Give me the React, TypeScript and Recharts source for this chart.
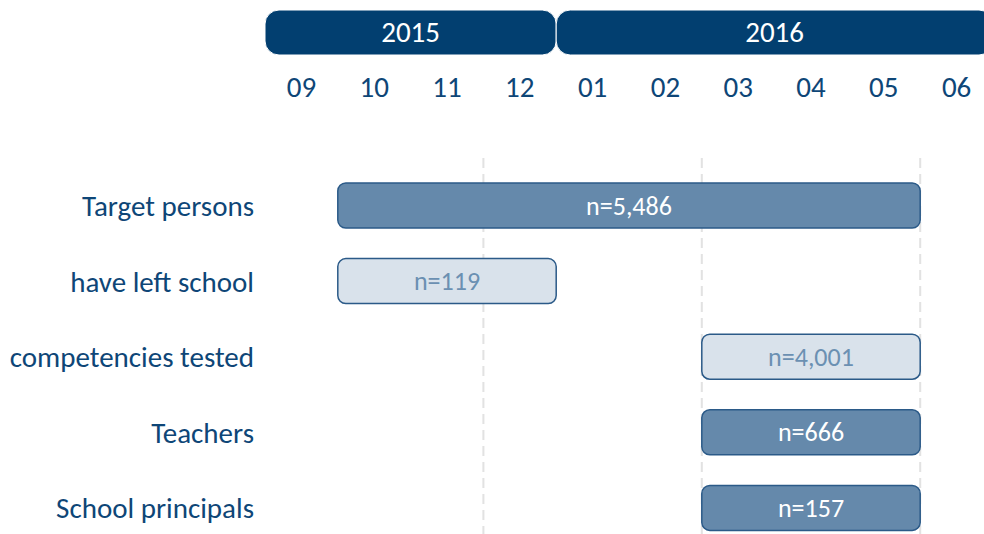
import React from 'react';
import { BarChart, Bar, XAxis, YAxis, ReferenceArea, CartesianGrid, Cell, LabelList } from 'recharts';

// month axis (index 0 = September 2015)
const monthLabels = ['09', '10', '11', '12', '01', '02', '03', '04', '05', '06'];
const monthIndex = [0, 1, 2, 3, 4, 5, 6, 7, 8, 9];

// year header bands
const years = ['2015', '2016'];
const yearStart = [-0.5, 3.5];
const yearEnd = [3.5, 9.5];

// survey groups
const groups = ['Target persons', 'have left school', 'competencies tested', 'Teachers', 'School principals'];
const periodStart = [0.5, 0.5, 5.5, 5.5, 5.5];
const periodEnd = [8.5, 3.5, 8.5, 8.5, 8.5];
const sampleLabels = ['n=5,486', 'n=119', 'n=4,001', 'n=666', 'n=157'];
const emphasis = [true, false, false, true, true];

// dashed divider positions
const dividers = [2.5, 5.5, 8.5];

const FONT = 'Calibri, Carlito, Lato, sans-serif';
const NAVY = '#023f70';
const TEXT = '#0e4677';
const DARK = '#6589ab';
const LIGHT = '#d9e2eb';
const BORDER = '#2b5a88';
const LIGHT_TEXT = '#6b90b2';

const headerData = years.map((y) => ({ year: y }));
const rows = groups.map((g, i) => ({
  group: g,
  period: [periodStart[i], periodEnd[i]],
  n: sampleLabels[i],
}));

const renderLabel = (props: any) => {
  const { x, y, width, height, value } = props;
  let idx = props.index;
  if (idx === undefined || idx === null) idx = sampleLabels.indexOf(value);
  const dark = emphasis[idx];
  return (
    <text
      x={Number(x) + Number(width) / 2}
      y={Number(y) + Number(height) / 2}
      textAnchor="middle"
      dominantBaseline="central"
      fill={dark ? '#ffffff' : LIGHT_TEXT}
      fontSize={26}
      fontFamily={FONT}
    >
      {value}
    </text>
  );
};

const dividerCoords = (props: any) => {
  const axis = props.xAxis;
  const scale = axis && axis.scale;
  if (scale && typeof scale === 'function') return dividers.map((d) => scale(d));
  if (scale && typeof scale.map === 'function') return dividers.map((d) => scale.map(d));
  const off = props.offset;
  return dividers.map((d) => off.left + ((d + 0.5) / 10) * off.width);
};

export default function App() {
  return (
    <div
      style={{
        position: 'absolute',
        left: 0,
        top: 0,
        width: 984,
        height: 534,
        overflow: 'hidden',
        background: '#ffffff',
        fontFamily: FONT,
      }}
    >
      <div style={{ position: 'absolute', left: 0, top: 0 }}>
        <BarChart
          width={993}
          height={120}
          data={headerData}
          layout="vertical"
          margin={{ top: 10, right: 0, left: 265, bottom: 35 }}
        >
          <XAxis
            type="number"
            domain={[-0.5, 9.5]}
            ticks={monthIndex}
            tickFormatter={(v: number) => monthLabels[v]}
            axisLine={false}
            tickLine={false}
            tickSize={0}
            tickMargin={21}
            interval={0}
            allowDataOverflow
            tick={{ fill: TEXT, fontSize: 29, fontFamily: FONT }}
          />
          <YAxis type="category" dataKey="year" hide />
          {years.map((y, i) => (
            <ReferenceArea
              key={y}
              x1={yearStart[i]}
              x2={yearEnd[i]}
              fill={NAVY}
              fillOpacity={1}
              stroke="#ffffff"
              strokeWidth={1}
              radius={14}
              ifOverflow="visible"
              label={{ value: y, position: 'center', fill: '#ffffff', fontSize: 29, fontFamily: FONT, dy: -1 }}
            />
          ))}
        </BarChart>
      </div>
      <div style={{ position: 'absolute', left: 0, top: 120 }}>
        <BarChart
          width={993}
          height={426}
          data={rows}
          layout="vertical"
          margin={{ top: 38, right: 0, left: 0, bottom: 0 }}
          barSize={45}
        >
          <CartesianGrid
            horizontal={false}
            vertical
            verticalCoordinatesGenerator={dividerCoords}
            stroke="#e2e2e2"
            strokeWidth={2}
            strokeDasharray="10 6"
          />
          <XAxis type="number" domain={[-0.5, 9.5]} hide allowDataOverflow />
          <YAxis
            type="category"
            dataKey="group"
            width={265}
            axisLine={false}
            tickLine={false}
            tickSize={0}
            tickMargin={11}
            interval={0}
            padding={{ top: 10, bottom: 0 }}
            tick={{ fill: TEXT, fontSize: 29, fontFamily: FONT }}
          />
          <Bar dataKey="period" isAnimationActive={false} radius={8} strokeWidth={1.5}>
            {rows.map((r, i) => (
              <Cell key={r.group} fill={emphasis[i] ? DARK : LIGHT} stroke={BORDER} />
            ))}
            <LabelList dataKey="n" content={renderLabel} />
          </Bar>
        </BarChart>
      </div>
    </div>
  );
}
